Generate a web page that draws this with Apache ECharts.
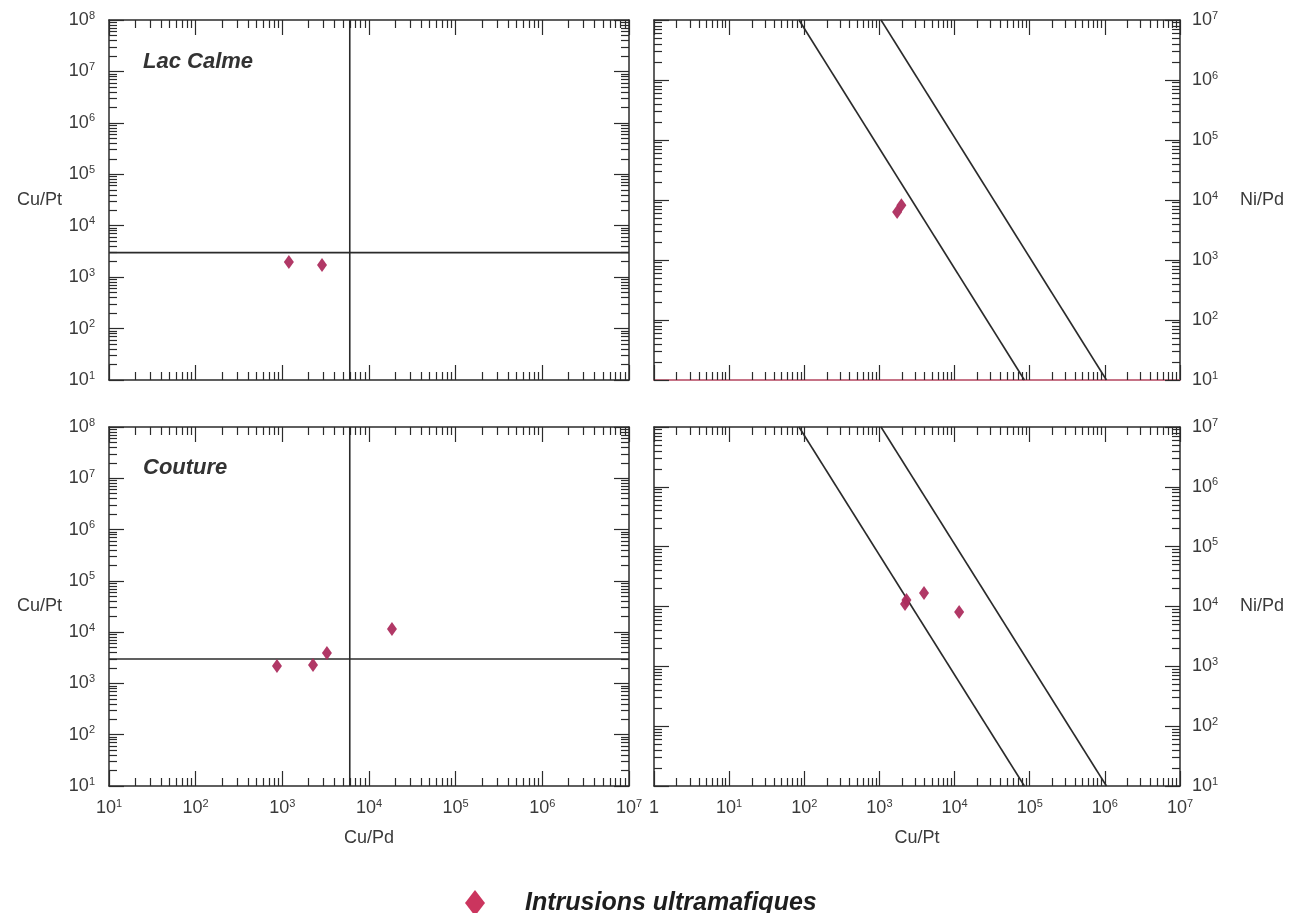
<!DOCTYPE html>
<html>
<head>
<meta charset="utf-8">
<script src="https://cdn.jsdelivr.net/npm/echarts@6/dist/echarts.min.js"></script>
<style>
  html, body { margin: 0; padding: 0; background: #ffffff; }
  #chart { width: 1300px; height: 913px; }
</style>
</head>
<body>
<div id="chart"></div>
<script>
// Cu/Pd – Cu/Pt and Cu/Pt – Ni/Pd ratio diagrams for two ultramafic intrusions

const seriesName = 'Intrusions ultramafiques';
const panelTitles = ['Lac Calme', 'Couture'];

// Lac Calme samples
const lacCalmeCuPd = [1190, 2870];
const lacCalmeCuPt = [1960, 1720];
const lacCalmeNiPd = [8200, 6300];

// Couture samples
const coutureCuPd = [867, 2260, 3270, 18400];
const coutureCuPt = [2190, 2290, 3920, 11500];
const coutureNiPd = [11000, 12800, 16800, 8100];

// Reference ratios (crossing lines on the Cu/Pd – Cu/Pt diagrams)
const refCuPd = 6000;
const refCuPt = 3000;

// Boundary lines on the Cu/Pt – Ni/Pd diagrams: [Cu/Pt, Ni/Pd] end points
const boundaryLow = [[85, 1e7], [8.5e4, 10]];
const boundaryHigh = [[1050, 1e7], [1.05e6, 10]];

// Axis ranges as decade exponents
const cuPdRange = [1, 7];
const cuPtLeftRange = [1, 8];
const cuPtRightRange = [0, 7];
const niPdRange = [1, 7];

const FONT = "'Liberation Sans', Arial, Helvetica, sans-serif";
const FRAME = '#2b2b2b';
const TEXT = '#3a3a3a';
const MARK = '#ad2d5e';

const decades = (lo, hi) => { const a = []; for (let e = lo; e <= hi; e++) a.push(Math.pow(10, e)); return a; };
const minors = (lo, hi) => { const a = []; for (let e = lo; e < hi; e++) for (let m = 2; m <= 9; m++) a.push(m * Math.pow(10, e)); return a; };

const powLabel = v => {
  const e = Math.round(Math.log10(v));
  return e === 0 ? '{b|1}' : '{b|10}{s|' + e + '}';
};
const labelRich = {
  b: { fontSize: 18, fontFamily: FONT, color: TEXT, lineHeight: 22 },
  s: { fontSize: 11, fontFamily: FONT, color: TEXT, lineHeight: 22, verticalAlign: 'top', padding: [1, 0, 0, 0] }
};

// Panel layout: plot rectangles and which sides carry labels / names
const panels = [
  { rect: { left: 109, top: 20, width: 520, height: 360 }, x: cuPdRange, y: cuPtLeftRange,
    xLabels: false, xName: '', yLabelSide: 'left', yName: 'Cu/Pt', bottomColor: FRAME },
  { rect: { left: 654, top: 20, width: 526, height: 360 }, x: cuPtRightRange, y: niPdRange,
    xLabels: false, xName: '', yLabelSide: 'right', yName: 'Ni/Pd', bottomColor: '#b4455f' },
  { rect: { left: 109, top: 427, width: 520, height: 359 }, x: cuPdRange, y: cuPtLeftRange,
    xLabels: true, xName: 'Cu/Pd', yLabelSide: 'left', yName: 'Cu/Pt', bottomColor: FRAME },
  { rect: { left: 654, top: 427, width: 526, height: 359 }, x: cuPtRightRange, y: niPdRange,
    xLabels: true, xName: 'Cu/Pt', yLabelSide: 'right', yName: 'Ni/Pd', bottomColor: FRAME }
];

const grids = [];
const xAxes = [];
const yAxes = [];

function makeAxis(gridIndex, position, range, o) {
  const isY = position === 'left' || position === 'right';
  return {
    type: 'log', logBase: 10, gridIndex: gridIndex, position: position,
    min: Math.pow(10, range[0]), max: Math.pow(10, range[1]),
    axisLine: { show: o.line, onZero: false, lineStyle: { color: o.lineColor || FRAME, width: 1.5 } },
    axisTick: { show: true, inside: true, length: o.tickLen, customValues: o.ticks,
      lineStyle: { color: FRAME, width: 1.2 } },
    minorTick: { show: false },
    splitLine: { show: false },
    axisLabel: { show: !!o.labels, customValues: decades(range[0], range[1]), formatter: powLabel,
      rich: labelRich, margin: isY ? (position === 'left' ? 14 : 12) : 11, hideOverlap: false,
      showMinLabel: true, showMaxLabel: true },
    name: o.name || '', nameLocation: 'middle', nameRotate: 0, nameGap: o.nameGap || 0,
    nameTextStyle: { fontSize: 18, fontFamily: FONT, color: TEXT }
  };
}

panels.forEach((p) => {
  // main grid: frame, decade ticks, labels
  grids.push(Object.assign({ containLabel: false, outerBoundsMode: 'none' }, p.rect));
  const gMain = grids.length - 1;
  xAxes.push(makeAxis(gMain, 'bottom', p.x, { line: true, lineColor: p.bottomColor, tickLen: 15,
    ticks: decades(p.x[0], p.x[1]), labels: p.xLabels, name: p.xName, nameGap: 43 }));
  xAxes.push(makeAxis(gMain, 'top', p.x, { line: true, tickLen: 15, ticks: decades(p.x[0], p.x[1]) }));
  yAxes.push(makeAxis(gMain, 'left', p.y, { line: true, tickLen: 15, ticks: decades(p.y[0], p.y[1]),
    labels: p.yLabelSide === 'left', name: p.yLabelSide === 'left' ? p.yName : '', nameGap: 47 }));
  yAxes.push(makeAxis(gMain, 'right', p.y, { line: true, tickLen: 15, ticks: decades(p.y[0], p.y[1]),
    labels: p.yLabelSide === 'right', name: p.yLabelSide === 'right' ? p.yName : '', nameGap: 60 }));
  // overlay grid: intermediate ticks (2..9 within each decade)
  grids.push(Object.assign({ containLabel: false, outerBoundsMode: 'none' }, p.rect));
  const gMinor = grids.length - 1;
  xAxes.push(makeAxis(gMinor, 'bottom', p.x, { line: false, tickLen: 8, ticks: minors(p.x[0], p.x[1]) }));
  xAxes.push(makeAxis(gMinor, 'top', p.x, { line: false, tickLen: 8, ticks: minors(p.x[0], p.x[1]) }));
  yAxes.push(makeAxis(gMinor, 'left', p.y, { line: false, tickLen: 8, ticks: minors(p.y[0], p.y[1]) }));
  yAxes.push(makeAxis(gMinor, 'right', p.y, { line: false, tickLen: 8, ticks: minors(p.y[0], p.y[1]) }));
});

// axis index of a panel's main bottom x axis / left y axis
const axisOf = i => 4 * i;

const refLine = (i, data) => ({
  type: 'line', xAxisIndex: axisOf(i), yAxisIndex: axisOf(i), data: data,
  symbol: 'none', silent: true, animation: false, z: 3,
  lineStyle: { color: FRAME, width: 1.6 }
});

const points = (i, xs, ys) => ({
  type: 'scatter', name: seriesName, xAxisIndex: axisOf(i), yAxisIndex: axisOf(i),
  data: xs.map((x, k) => [x, ys[k]]), symbol: 'diamond', symbolSize: [10, 14],
  itemStyle: { color: MARK, opacity: 0.95 }, z: 5
});

const series = [];
[0, 2].forEach(i => {
  const ymin = Math.pow(10, cuPtLeftRange[0]), ymax = Math.pow(10, cuPtLeftRange[1]);
  const xmin = Math.pow(10, cuPdRange[0]), xmax = Math.pow(10, cuPdRange[1]);
  series.push(refLine(i, [[xmin, refCuPt], [xmax, refCuPt]]));
  series.push(refLine(i, [[refCuPd, ymin], [refCuPd, ymax]]));
});
[1, 3].forEach(i => {
  series.push(refLine(i, boundaryLow));
  series.push(refLine(i, boundaryHigh));
});
series.push(points(0, lacCalmeCuPd, lacCalmeCuPt));
series.push(points(1, lacCalmeCuPt, lacCalmeNiPd));
series.push(points(2, coutureCuPd, coutureCuPt));
series.push(points(3, coutureCuPt, coutureNiPd));

const titleStyle = { fontFamily: FONT, fontSize: 22, fontWeight: 'bold', fontStyle: 'italic', color: '#333', lineHeight: 24 };

const option = {
  backgroundColor: '#ffffff',
  animation: false,
  title: [
    { text: panelTitles[0], left: 143, top: 50, padding: 0, textStyle: titleStyle },
    { text: panelTitles[1], left: 143, top: 456, padding: 0, textStyle: titleStyle }
  ],
  legend: {
    data: [{ name: seriesName, icon: 'diamond' }],
    left: 465, top: 890, padding: 0,
    itemWidth: 20, itemHeight: 26,
    itemStyle: { color: '#c82a55' },
    selectedMode: false,
    textStyle: { fontFamily: FONT, fontSize: 25, fontWeight: 'bold', fontStyle: 'italic', color: '#1e1e1e',
      padding: [0, 0, 0, 35] }
  },
  grid: grids,
  xAxis: xAxes,
  yAxis: yAxes,
  series: series
};

const chart = echarts.init(document.getElementById('chart'), null, { renderer: 'canvas' });
chart.setOption(option);
</script>
</body>
</html>
